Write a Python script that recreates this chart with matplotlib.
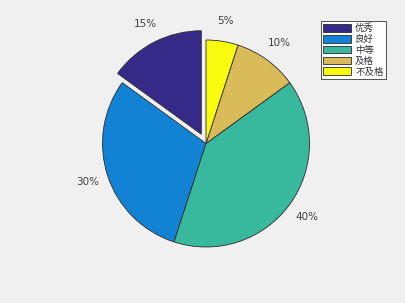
import matplotlib
matplotlib.use("Agg")
import matplotlib.pyplot as plt

# grade share data.
labels = ["优秀", "良好", "中等", "及格", "不及格"]
values = [15, 30, 40, 10, 5]
explode = [0.1, 0, 0, 0, 0]
colors = ["#352a87", "#1283d4", "#38b99e", "#d9bb59", "#f9fb0e"]

plt.rcParams["font.family"] = ["Noto Sans CJK SC", "DejaVu Sans"]

fig = plt.figure(figsize=(4.06, 3.03), dpi=100, facecolor="#f0f0f0")
ax = fig.add_axes([0.1505, 0.0482, 0.7138, 0.9564])
ax.set_facecolor("#f0f0f0")

wedges, texts = ax.pie(
    values,
    explode=explode,
    colors=colors,
    startangle=90,
    counterclock=True,
    labels=[f"{v}%" for v in values],
    labeldistance=1.2,
    wedgeprops={"edgecolor": "#2b2b2b", "linewidth": 0.6},
    textprops={"fontsize": 7.5, "color": "#404040", "family": ["DejaVu Sans"]},
)
for t in texts:
    t.set_horizontalalignment("center")
    t.set_verticalalignment("center")
ax.set_xlim(-1.4, 1.4)
ax.set_ylim(-1.4, 1.4)
ax.set_aspect("equal")
ax.axis("off")

# legend box in the upper right.
leg = fig.legend(
    wedges, labels,
    loc="upper right",
    bbox_to_anchor=(386 / 406, 1 - 21 / 303),
    borderaxespad=0,
    fontsize=6.8,
    handlelength=3.0,
    handleheight=0.9,
    labelspacing=0.18,
    handletextpad=0.4,
    borderpad=0.25,
    fancybox=False,
    framealpha=1,
)
leg.get_frame().set_edgecolor("#333333")
leg.get_frame().set_linewidth(0.6)
for txt in leg.get_texts():
    txt.set_color("#333333")

fig.savefig("out.png", dpi=100, facecolor=fig.get_facecolor())
